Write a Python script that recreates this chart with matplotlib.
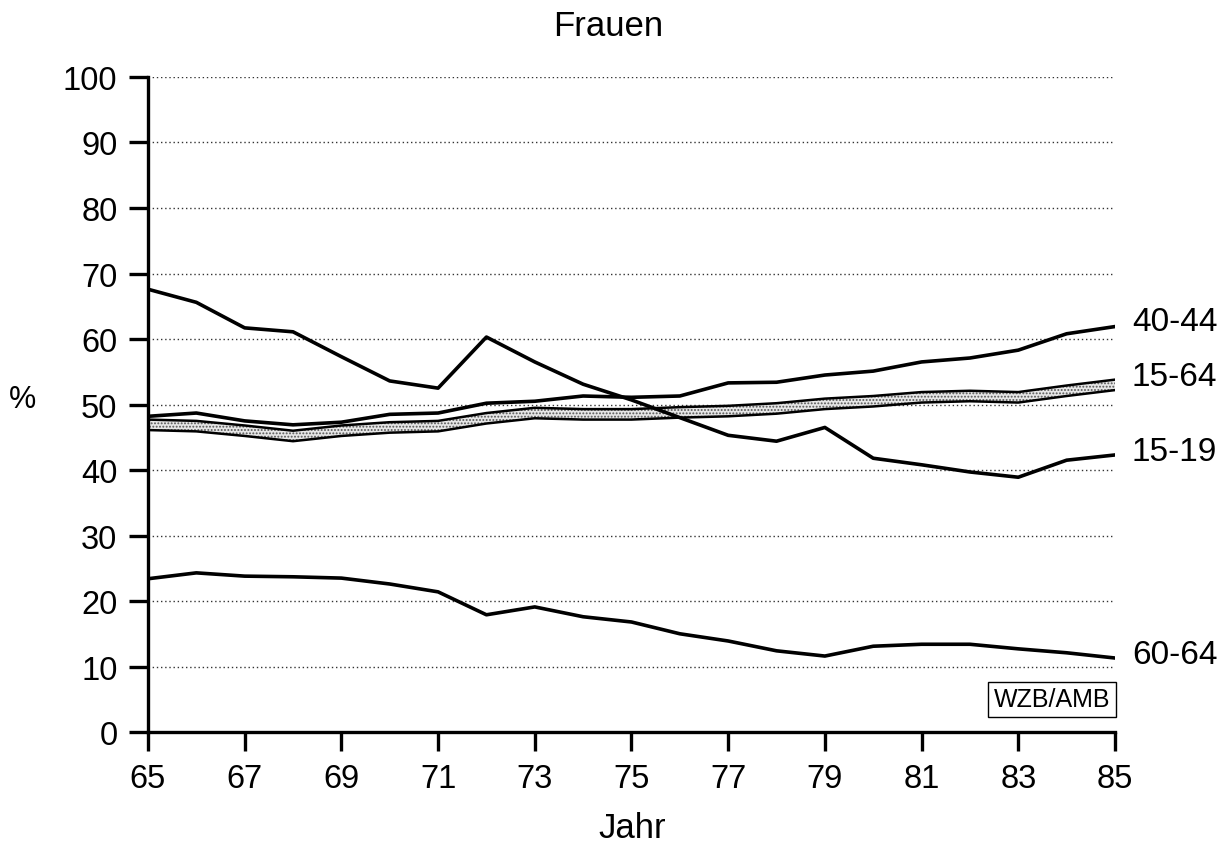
import numpy as np
import matplotlib.pyplot as plt

plt.rcParams['font.family'] = ['Liberation Sans', 'DejaVu Sans']
plt.rcParams['hatch.linewidth'] = 0.9

years = np.arange(65, 86)

# 40-44
f40_44 = [48.2, 48.7, 47.5, 46.9, 47.3, 48.5, 48.7, 50.2, 50.5, 51.3, 51.1,
          51.3, 53.3, 53.4, 54.5, 55.1, 56.5, 57.1, 58.3, 60.8, 61.9]
# 15-19
f15_19 = [67.6, 65.6, 61.7, 61.1, 57.3, 53.6, 52.5, 60.3, 56.5, 53.1, 50.7,
          48.0, 45.3, 44.4, 46.5, 41.8, 40.8, 39.7, 38.9, 41.5, 42.3]
# 15-64 (drawn as a band)
f15_64_hi = [47.7, 47.5, 46.8, 46.0, 46.8, 47.3, 47.5, 48.7, 49.5, 49.3, 49.3,
             49.6, 49.8, 50.2, 50.9, 51.3, 51.9, 52.1, 51.9, 52.9, 53.8]
f15_64_lo = [46.1, 45.9, 45.2, 44.4, 45.2, 45.7, 45.9, 47.1, 47.9, 47.7, 47.7,
             48.0, 48.2, 48.6, 49.3, 49.7, 50.3, 50.5, 50.3, 51.3, 52.2]
# 60-64
f60_64 = [23.4, 24.3, 23.8, 23.7, 23.5, 22.6, 21.4, 17.9, 19.1, 17.6, 16.8,
          15.0, 13.9, 12.4, 11.6, 13.1, 13.4, 13.4, 12.7, 12.1, 11.3]

labels = ['40-44', '15-64', '15-19', '60-64']
label_y = [62.7, 54.3, 42.9, 11.9]

fig = plt.figure(figsize=(12.27, 8.45), dpi=100)
ax = fig.add_axes([0.1206, 0.1325, 0.7881, 0.7752])

for v in range(10, 101, 10):
    ax.axhline(v, color='#333333', lw=1.0, ls=(0, (1, 2)), zorder=1)

ax.fill_between(years, f15_64_lo, f15_64_hi, facecolor='#e6e6e6',
                edgecolor='#555555', hatch='.....', lw=0, zorder=2)
ax.plot(years, f15_64_hi, color='black', lw=1.8, zorder=3)
ax.plot(years, f15_64_lo, color='black', lw=1.8, zorder=3)

for s in [f40_44, f15_19, f60_64]:
    ax.plot(years, s, color='black', lw=2.6, zorder=4)

for lab, y in zip(labels, label_y):
    ax.text(85.35, y, lab, fontsize=24, va='center', ha='left', clip_on=False)

ax.set_xlim(65, 85)
ax.set_ylim(0, 100)
ax.set_xticks(range(65, 86, 2))
ax.set_yticks(range(0, 101, 10))
ax.tick_params(axis='both', direction='out', length=14, width=2.4,
               labelsize=23.5, color='black')
ax.tick_params(axis='y', pad=8)
ax.tick_params(axis='x', pad=8)
for side in ['top', 'right']:
    ax.spines[side].set_visible(False)
for side in ['left', 'bottom']:
    ax.spines[side].set_linewidth(2.4)

ax.text(84.9, 5.0, 'WZB/AMB', fontsize=18, ha='right', va='center',
        bbox=dict(boxstyle='square,pad=0.22', fc='white', ec='black', lw=1.0),
        zorder=5)

fig.text(0.4955, 0.957, 'Frauen', fontsize=25, ha='center', va='baseline')
fig.text(0.515, 0.008, 'Jahr', fontsize=25, ha='center', va='baseline')
fig.text(0.018, 0.527, '%', fontsize=22, ha='center', va='center')

fig.savefig('out.png', dpi=100)
